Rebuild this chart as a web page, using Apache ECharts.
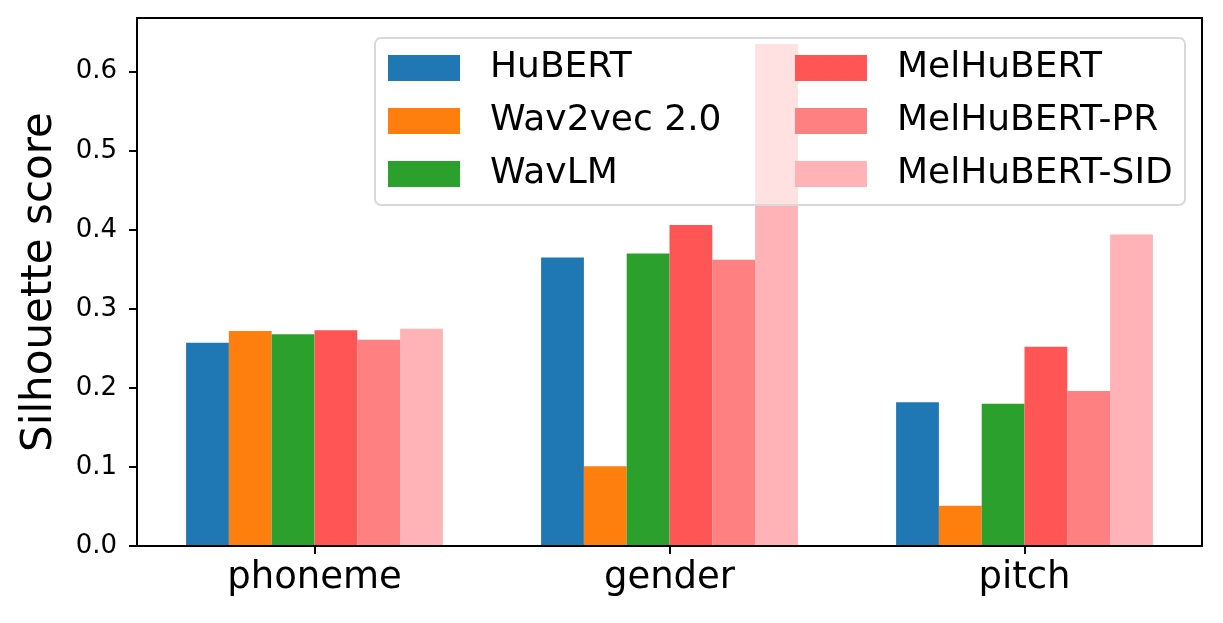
<!DOCTYPE html>
<html>
<head>
<meta charset="utf-8">
<script src="https://cdn.jsdelivr.net/npm/echarts@6/dist/echarts.min.js"></script>
<style>html,body{margin:0;padding:0;background:#fff;}#c{width:1223px;height:623px;}</style>
</head>
<body>
<div id="c"></div>
<script>
const categories = ['phoneme', 'gender', 'pitch'];
const seriesNames = ['HuBERT', 'Wav2vec 2.0', 'WavLM', 'MelHuBERT', 'MelHuBERT-PR', 'MelHuBERT-SID'];
const colors = ['#1f77b4', '#ff7f0e', '#2ca02c', '#ff5555', '#ff8080', '#ffb3b6'];
const hubert = [0.257, 0.365, 0.182];
const wav2vec = [0.272, 0.101, 0.051];
const wavlm = [0.268, 0.370, 0.180];
const melhubert = [0.273, 0.406, 0.252];
const melhubertPR = [0.261, 0.362, 0.196];
const melhubertSID = [0.275, 0.635, 0.394];
const yTicks = [0, 0.1, 0.2, 0.3, 0.4, 0.5, 0.6];
const seriesValues = [hubert, wav2vec, wavlm, melhubert, melhubertPR, melhubertSID];

const font = 'DejaVu Sans';
const chart = echarts.init(document.getElementById('c'), null, {renderer: 'canvas'});
const series = seriesNames.map((n, i) => ({
  name: n, type: 'bar', data: seriesValues[i], barWidth: 42.8, barGap: '0%',
  itemStyle: {color: colors[i]}, z: 2
}));
const legendCommon = {
  orient: 'vertical', itemWidth: 72, itemHeight: 26, itemGap: 17,
  icon: 'rect', z: 30, padding: 0,
  textStyle: {fontFamily: font, fontSize: 36, color: '#000', padding: [0, 0, 0, 25], lineHeight: 34},
  selectedMode: false
};
chart.setOption({
  animation: false,
  backgroundColor: '#fff',
  grid: {left: 137, right: 21, top: 18, bottom: 77, show: true, borderColor: '#000', borderWidth: 2, backgroundColor: 'transparent', z: 5},
  xAxis: {
    type: 'category', data: categories, boundaryGap: true,
    axisLine: {show: true, lineStyle: {color: '#000', width: 2}},
    axisTick: {show: true, alignWithLabel: true, length: 8, lineStyle: {color: '#000', width: 2}},
    axisLabel: {fontFamily: font, fontSize: 37, color: '#000', margin: 14},
    splitLine: {show: false}
  },
  yAxis: {
    type: 'value', min: 0, max: 0.668,
    name: 'Silhouette score', nameLocation: 'middle', nameGap: 76,
    nameTextStyle: {fontFamily: font, fontSize: 42, color: '#000'},
    axisLine: {show: true, lineStyle: {color: '#000', width: 2}},
    axisTick: {show: true, length: 8, lineStyle: {color: '#000', width: 2}, customValues: yTicks},
    axisLabel: {fontFamily: font, fontSize: 26, color: '#000', margin: 20, customValues: yTicks,
      formatter: v => v.toFixed(1)},
    splitLine: {show: false}
  },
  legend: [
    Object.assign({}, legendCommon, {left: 388, top: 50, data: seriesNames.slice(0, 3)}),
    Object.assign({}, legendCommon, {left: 795, top: 50, data: seriesNames.slice(3)})
  ],
  graphic: [{
    type: 'rect', z: 20, left: 374, top: 37,
    shape: {width: 810, height: 167, r: 6},
    style: {fill: 'rgba(255,255,255,0.6)', stroke: '#d9d9d9', lineWidth: 2}
  }],
  series: series
});
</script>
</body>
</html>
